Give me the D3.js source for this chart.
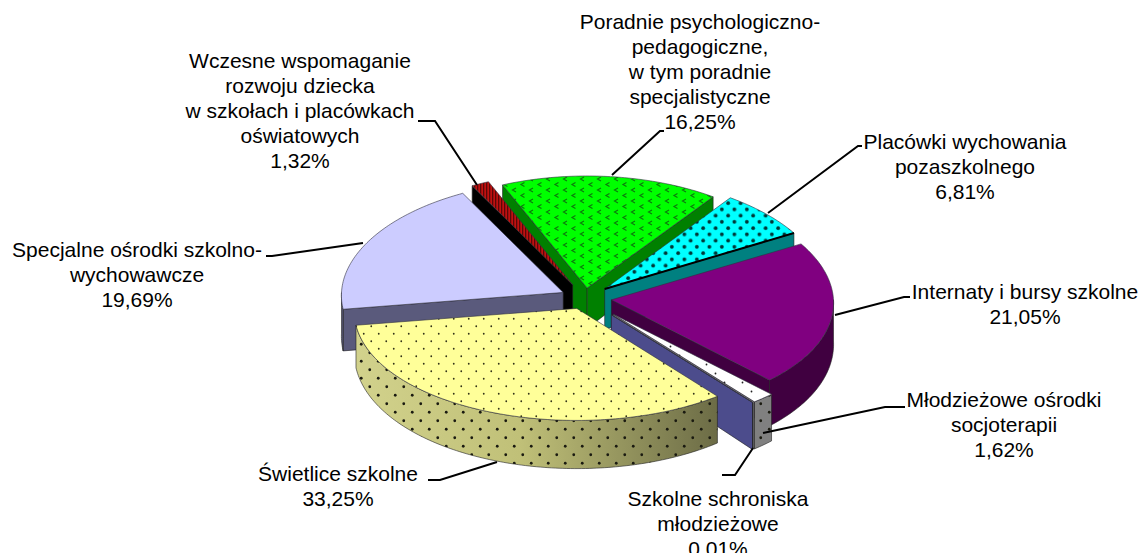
<!DOCTYPE html>
<html>

<head>
    <meta charset="utf-8">
    <script src="https://d3js.org/d3.v7.min.js"></script>
    <style type="text/css">
        html, body { margin: 0; padding: 0; background: white; overflow: hidden; }
        text { font-family: "Liberation Sans", Arial, sans-serif; font-size: 21px; fill: black; }
        .leader { fill: none; stroke: black; stroke-width: 2px; }
    </style>
</head>

<body>
    <script>
        // data, clockwise from the top
        const categories = [
            ["Poradnie psychologiczno-", "pedagogiczne,", "w tym poradnie", "specjalistyczne"],
            ["Placówki wychowania", "pozaszkolnego"],
            ["Internaty i bursy szkolne"],
            ["Młodzieżowe ośrodki", "socjoterapii"],
            ["Szkolne schroniska", "młodzieżowe"],
            ["Świetlice szkolne"],
            ["Specjalne ośrodki szkolno-", "wychowawcze"],
            ["Wczesne wspomaganie", "rozwoju dziecka", "w szkołach i placówkach", "oświatowych"]
        ];
        const values = [16.25, 6.81, 21.05, 1.62, 0.01, 33.25, 19.69, 1.32];
        const valueLabels = ["16,25%", "6,81%", "21,05%", "1,62%", "0,01%", "33,25%", "19,69%", "1,32%"];

        // styles
        const topFills = ["url(#pGreen)", "url(#pCyan)", "#800080", "url(#pWhite)", "#6666bb", "url(#pYellow)", "#ccccff", "url(#pRed)"];
        const wallFills = ["#008000", "#008080", "#400040", "#808080", "#4c4c8c", "url(#gYellow)", "#5a5a7c", "#000000"];
        const explode = [0.09, 0.12, 0.12, 0.19, 0.19, 0.1, 0.11, 0.13];
        const paintOrder = [0, 7, 1, 6, 2, 3, 4, 5];

        // label placement: centre x, first line y, leader points
        const labelX = [700, 965, 1025, 1004, 718, 338, 137, 300];
        const labelY = [29, 149, 299, 407, 506, 481, 257, 68];
        const leaders = [
            [[612, 175], [660, 131], [664, 131]],
            [[768, 213], [858, 146], [862, 146]],
            [[835, 315], [904, 297], [910, 297]],
            [[763, 433], [885, 407], [905, 407]],
            [[753, 448], [735, 475], [722, 475]],
            [[497, 462], [440, 480], [428, 480]],
            [[363, 243], [272, 256], [266, 256]],
            [[477, 185], [435, 121], [418, 121]]
        ];

        const width = 1140, height = 553;
        const depth = 41, perspective = 0.16, widen = 0.025;
        const rad = Math.PI / 180;

        const xScale = d3.scaleLinear().domain([-1, 1]).range([363, 807]);
        const yScale = d3.scaleLinear().domain([-1, 1]).range([186, 410]);

        const svg = d3.select("body").append("svg")
            .attr("width", width)
            .attr("height", height);

        const defs = svg.append("defs");

        function dotPattern(id, size, bg, r, color) {
            let p = defs.append("pattern")
                .attr("id", id)
                .attr("patternUnits", "userSpaceOnUse")
                .attr("width", size)
                .attr("height", size);
            if (bg) p.append("rect").attr("width", size).attr("height", size).attr("fill", bg);
            [[size / 4, size / 4], [size * 3 / 4, size * 3 / 4]].forEach(function (d) {
                p.append("circle").attr("cx", d[0]).attr("cy", d[1]).attr("r", r).attr("fill", color);
            });
        }
        dotPattern("pYellow", 15, "#ffff99", 0.9, "#333318");
        dotPattern("pWhite", 18, "#ffffff", 0.9, "#222222");
        dotPattern("pCyan", 12.5, "#00ffff", 1.9, "#003838");
        dotPattern("dotsWall", 17, null, 1.4, "#1a1a10");

        // chevron marks on the green slice
        let pg = defs.append("pattern")
            .attr("id", "pGreen")
            .attr("patternUnits", "userSpaceOnUse")
            .attr("width", 17)
            .attr("height", 11);
        pg.append("rect").attr("width", 17).attr("height", 11).attr("fill", "#00ff00");
        [[4, 3], [12.5, 8.5]].forEach(function (d) {
            pg.append("path")
                .attr("d", "M" + (d[0] + 2) + "," + (d[1] - 2) + "L" + (d[0] - 1.5) + "," + d[1] + "L" + (d[0] + 2) + "," + (d[1] + 2))
                .attr("fill", "none")
                .attr("stroke", "#0c7a0c")
                .attr("stroke-width", 1.2);
        });

        let pr = defs.append("pattern")
            .attr("id", "pRed")
            .attr("patternUnits", "userSpaceOnUse")
            .attr("width", 3)
            .attr("height", 3);
        pr.append("rect").attr("width", 3).attr("height", 3).attr("fill", "#c01010");
        pr.append("rect").attr("width", 1.3).attr("height", 3).attr("fill", "#5a0808");

        let gy = defs.append("linearGradient")
            .attr("id", "gYellow")
            .attr("gradientUnits", "userSpaceOnUse")
            .attr("x1", 355).attr("x2", 722).attr("y1", 0).attr("y2", 0);
        [[0, "#d2d28c"], [0.45, "#c0c078"], [1, "#6a6a45"]].forEach(function (d) {
            gy.append("stop").attr("offset", d[0]).attr("stop-color", d[1]);
        });

        const pie = d3.pie().sort(null)
            .startAngle(-23 * rad)
            .endAngle(337 * rad);
        const arcs = pie(values);

        // disc coordinates to screen, z=0 top face, z=1 bottom face
        function project(a, r, z, i) {
            let d = arcs[i];
            let m = (d.startAngle + d.endAngle) / 2;
            let X = r * Math.sin(a) + explode[i] * Math.sin(m);
            let Y = -r * Math.cos(a) - explode[i] * Math.cos(m);
            let s = 1 + perspective * Y;
            return [
                xScale(X * (1 + widen * Y)),
                yScale(Y) + depth * z * s
            ];
        }

        const line = d3.line().curve(d3.curveLinear);

        function arcPoints(a0, a1, z, i) {
            let n = Math.max(2, Math.ceil((a1 - a0) * 60));
            return d3.range(n + 1).map(function (k) {
                return project(a0 + (a1 - a0) * k / n, 1, z, i);
            });
        }

        function drawWall(pts, fill, overlay) {
            if (overlay === undefined && d3.polygonArea(pts) >= 0) return;
            svg.append("path")
                .attr("d", line(pts) + "Z")
                .attr("fill", fill)
                .attr("stroke", "#202020")
                .attr("stroke-width", 0.6);
            if (overlay) {
                svg.append("path").attr("d", line(pts) + "Z").attr("fill", overlay);
            }
        }

        paintOrder.forEach(function (i) {
            let d = arcs[i];
            let apexTop = project(0, 0, 0, i);
            let apexBot = project(0, 0, 1, i);
            let top = arcPoints(d.startAngle, d.endAngle, 0, i);
            let bot = arcPoints(d.startAngle, d.endAngle, 1, i);
            let overlay = (i === 5 || i === 3) ? "url(#dotsWall)" : null;

            // the two cut faces, back ones are culled by winding
            drawWall([apexTop, apexBot, bot[0], top[0]], wallFills[i]);
            drawWall([apexTop, top[top.length - 1], bot[bot.length - 1], apexBot], wallFills[i]);

            // rim, only the part that faces the viewer (90 to 270 degrees)
            let a0 = Math.max(d.startAngle, 90 * rad);
            let a1 = Math.min(d.endAngle, 270 * rad);
            if (a1 > a0) {
                let rim = arcPoints(a0, a1, 0, i).concat(arcPoints(a0, a1, 1, i).reverse());
                drawWall(rim, wallFills[i], overlay);
            }

            svg.append("path")
                .attr("d", line([apexTop].concat(top)) + "Z")
                .attr("fill", topFills[i])
                .attr("stroke", "#303040")
                .attr("stroke-width", 0.6);

            // black edge along the cyan slice
            if (i === 1) {
                svg.append("path")
                    .attr("class", "leader")
                    .attr("d", line([apexTop, top[top.length - 1]]))
                    .attr("stroke-width", 3);
            }
        });

        // leaders
        leaders.forEach(function (pts) {
            svg.append("path").attr("class", "leader").attr("d", line(pts));
        });

        // labels
        categories.forEach(function (lines, i) {
            let t = svg.append("text").attr("text-anchor", "middle");
            lines.concat([valueLabels[i]]).forEach(function (s, k) {
                t.append("tspan")
                    .attr("x", labelX[i])
                    .attr("y", labelY[i] + k * 25)
                    .text(s);
            });
        });
    </script>
</body>

</html>
